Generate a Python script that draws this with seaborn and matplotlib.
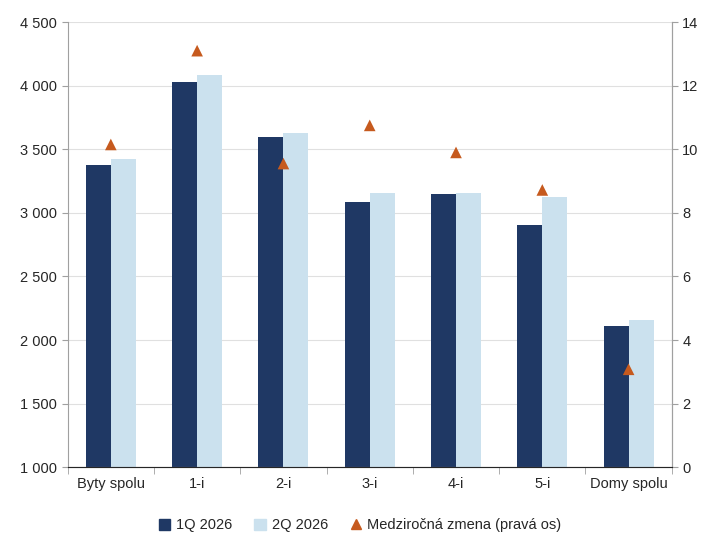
import numpy as np
import pandas as pd
import seaborn as sns
import matplotlib.pyplot as plt
from matplotlib.lines import Line2D
from matplotlib.patches import Patch

sns.set_style('white')
plt.rcParams['font.family'] = ['Liberation Sans', 'DejaVu Sans']
plt.rcParams['font.size'] = 10.5

categories = ['Byty spolu', '1-i', '2-i', '3-i', '4-i', '5-i', 'Domy spolu']
q1 = [3378, 4030, 3598, 3086, 3150, 2905, 2112]
q2 = [3422, 4083, 3627, 3158, 3158, 3125, 2158]
yoy = [10.15, 13.1, 9.55, 10.75, 9.9, 8.72, 3.08]

df = pd.DataFrame({'cat': categories * 2,
                   'val': q1 + q2,
                   'q': ['1Q 2026'] * 7 + ['2Q 2026'] * 7})

c1, c2, c3 = '#1F3864', '#CBE1EE', '#C65A1E'

fig = plt.figure(figsize=(7.2, 5.51), dpi=100)
ax = fig.add_axes([0.094, 0.152, 0.839, 0.808])
sns.barplot(data=df, x='cat', y='val', hue='q', palette=[c1, c2], ax=ax,
            width=0.58, gap=0, legend=False, saturation=1, linewidth=0)
ax.set_ylim(1000, 4500)
ax.set_yticks(np.arange(1000, 4501, 500))
ax.set_yticklabels([f'{v:,}'.replace(',', ' ') for v in range(1000, 4501, 500)])
ax.set_xlim(-0.5, 6.5)
ax.set_xlabel('')
ax.set_ylabel('')
ax.grid(axis='y', color='#E0E0E0', lw=0.8)
ax.set_axisbelow(True)
ax.set_xticks(np.arange(-0.5, 7, 1), minor=True)
ax.tick_params(axis='x', which='minor', length=5, color='#A0A0A0', bottom=True)
ax.tick_params(axis='x', which='major', length=0, pad=7)
ax.tick_params(axis='y', length=4, color='#A0A0A0', left=True)
ax.spines['top'].set_visible(False)
for s in ['left', 'bottom', 'right']:
    ax.spines[s].set_color('#A0A0A0')

ax2 = ax.twinx()
sns.scatterplot(x=np.arange(7), y=yoy, marker='^', color=c3, s=70,
                edgecolor='none', ax=ax2, zorder=5)
ax2.set_ylim(0, 14)
ax2.set_yticks(range(0, 15, 2))
ax2.tick_params(axis='y', length=4, color='#A0A0A0', right=True)
ax2.spines['top'].set_visible(False)
ax2.spines['right'].set_color('#A0A0A0')
ax2.spines['left'].set_visible(False)

handles = [Patch(color=c1), Patch(color=c2),
           Line2D([], [], marker='^', color=c3, ls='none', markersize=7)]
fig.legend(handles, ['1Q 2026', '2Q 2026', 'Medziročná zmena (pravá os)'],
           loc='lower center', ncol=3, frameon=False, bbox_to_anchor=(0.5, 0.01),
           handlelength=0.8, handleheight=0.8, handletextpad=0.4, columnspacing=1.5)

fig.savefig('out.png', dpi=100)
